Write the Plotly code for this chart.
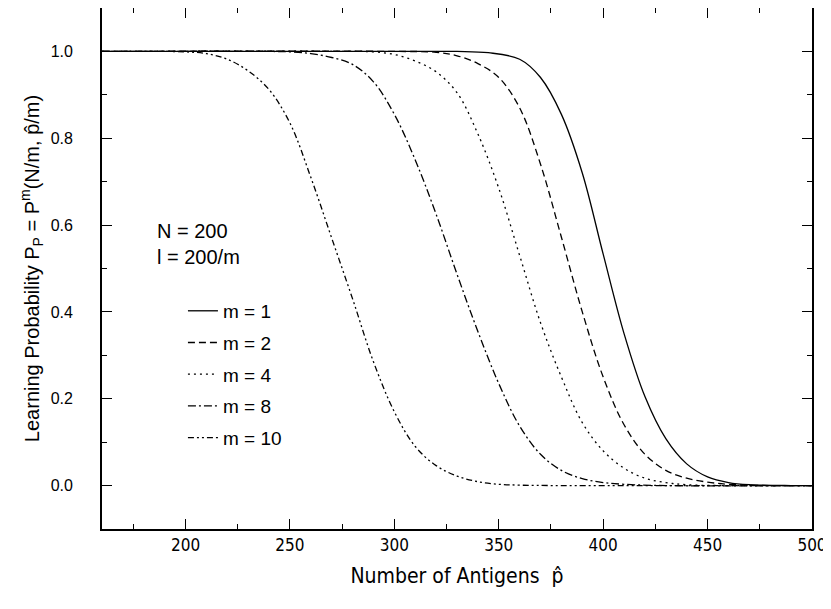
import plotly.graph_objects as go

# Data (x = number of antigens p-hat, y = learning probability)
x_m1 = [160, 300, 330, 345, 360, 370, 380, 390, 400, 410, 420, 430, 440, 450, 460, 470, 490, 500]
y_m1 = [1.0, 1.0, 1.0, 0.997, 0.982, 0.94, 0.855, 0.72, 0.533, 0.35, 0.205, 0.108, 0.05, 0.02, 0.007, 0.002, 0.0, 0.0]

x_m2 = [160, 300, 320, 330, 340, 350, 360, 370, 380, 390, 400, 410, 420, 430, 440, 450, 460, 480, 500]
y_m2 = [1.0, 1.0, 0.998, 0.99, 0.972, 0.94, 0.87, 0.74, 0.572, 0.40, 0.25, 0.14, 0.072, 0.035, 0.017, 0.008, 0.003, 0.0, 0.0]

x_m4 = [160, 280, 290, 300, 310, 320, 330, 340, 350, 360, 370, 380, 390, 400, 410, 420, 430, 440, 460, 500]
y_m4 = [1.0, 1.0, 0.999, 0.993, 0.978, 0.953, 0.905, 0.81, 0.685, 0.53, 0.375, 0.25, 0.145, 0.08, 0.04, 0.017, 0.007, 0.002, 0.0, 0.0]

x_m8 = [160, 240, 250, 260, 270, 280, 290, 300, 310, 320, 330, 340, 350, 360, 370, 380, 390, 400, 410, 430, 500]
y_m8 = [1.0, 1.0, 0.999, 0.995, 0.986, 0.97, 0.93, 0.855, 0.75, 0.625, 0.487, 0.355, 0.235, 0.137, 0.072, 0.035, 0.016, 0.007, 0.003, 0.0, 0.0]

x_m10 = [160, 190, 200, 210, 220, 230, 240, 250, 260, 270, 280, 290, 300, 310, 320, 330, 340, 350, 360, 380, 500]
y_m10 = [1.0, 1.0, 0.999, 0.995, 0.982, 0.955, 0.912, 0.835, 0.71, 0.57, 0.43, 0.285, 0.17, 0.09, 0.046, 0.022, 0.009, 0.003, 0.001, 0.0, 0.0]

names = ["m = 1", "m = 2", "m = 4", "m = 8", "m = 10"]
dashes = ["solid", "7px,4px", "2px,4px", "8px,3px,2px,3px", "6px,3px,2px,3px,2px,3px"]

series = [(x_m1, y_m1), (x_m2, y_m2), (x_m4, y_m4), (x_m8, y_m8), (x_m10, y_m10)]

fig = go.Figure()
for i, ((xs, ys), name, dash) in enumerate(zip(series, names, dashes)):
    fig.add_trace(go.Scatter(
        x=xs, y=ys, mode="lines", name=name,
        line=dict(color="black", width=1.3, dash=dash, shape="spline", smoothing=1.0),
        legendgroup=f"g{i}",
    ))

axis_common = dict(
    showline=True, linecolor="black", linewidth=1.8, mirror="ticks",
    ticks="inside", ticklen=10, tickwidth=1.2, tickcolor="black",
    showgrid=False, zeroline=False, automargin=False,
)

fig.update_xaxes(
    range=[160, 500], tickvals=[200, 250, 300, 350, 400, 450, 500],
    minor=dict(ticks="inside", ticklen=5, tickwidth=1.0, tickcolor="black", dtick=25, tick0=175),
    tickfont=dict(family="DejaVu Sans Condensed, Liberation Sans Narrow, Liberation Sans", size=17, color="black"),
    ticklabeloverflow="allow",
    title=dict(text="Number of Antigens  p\u0302",
               font=dict(family="DejaVu Sans Condensed, Liberation Sans Narrow, Liberation Sans", size=21, color="black"),
               standoff=14),
    **axis_common,
)
fig.update_yaxes(
    range=[-0.1, 1.1], tickvals=[0.0, 0.2, 0.4, 0.6, 0.8, 1.0], ticktext=["0.0", "0.2", "0.4", "0.6", "0.8", "1.0"],
    minor=dict(ticks="inside", ticklen=5, tickwidth=1.0, tickcolor="black", dtick=0.1, tick0=-0.1),
    tickfont=dict(family="Liberation Sans, Arial", size=16, color="black"),
    ticklabelstandoff=24,
    title=dict(text="Learning Probability P<sub>P</sub> = P<sup>m</sup>(N/m, p\u0302/m)",
               font=dict(family="Liberation Sans, Arial", size=20, color="black"),
               standoff=6),
    **axis_common,
)

fig.add_annotation(x=0.075, y=0.572, xref="paper", yref="paper", xanchor="left", yanchor="middle",
                   text="N = 200", showarrow=False,
                   font=dict(family="Liberation Sans, Arial", size=20, color="black"))
fig.add_annotation(x=0.075, y=0.522, xref="paper", yref="paper", xanchor="left", yanchor="middle",
                   text="l = 200/m", showarrow=False,
                   font=dict(family="Liberation Sans, Arial", size=20, color="black"))

# the page body adds an 8px offset, so the figure is sized to fit the window
fig.update_layout(
    width=831, height=590,
    margin=dict(l=94, r=27, t=0, b=69),
    plot_bgcolor="white", paper_bgcolor="white",
    showlegend=True,
    legend=dict(x=0.114, y=0.455, xanchor="left", yanchor="top",
                font=dict(family="Liberation Sans, Arial", size=19, color="black"),
                bgcolor="rgba(0,0,0,0)", tracegroupgap=4, itemwidth=30),
)

fig.write_html("out.html")
